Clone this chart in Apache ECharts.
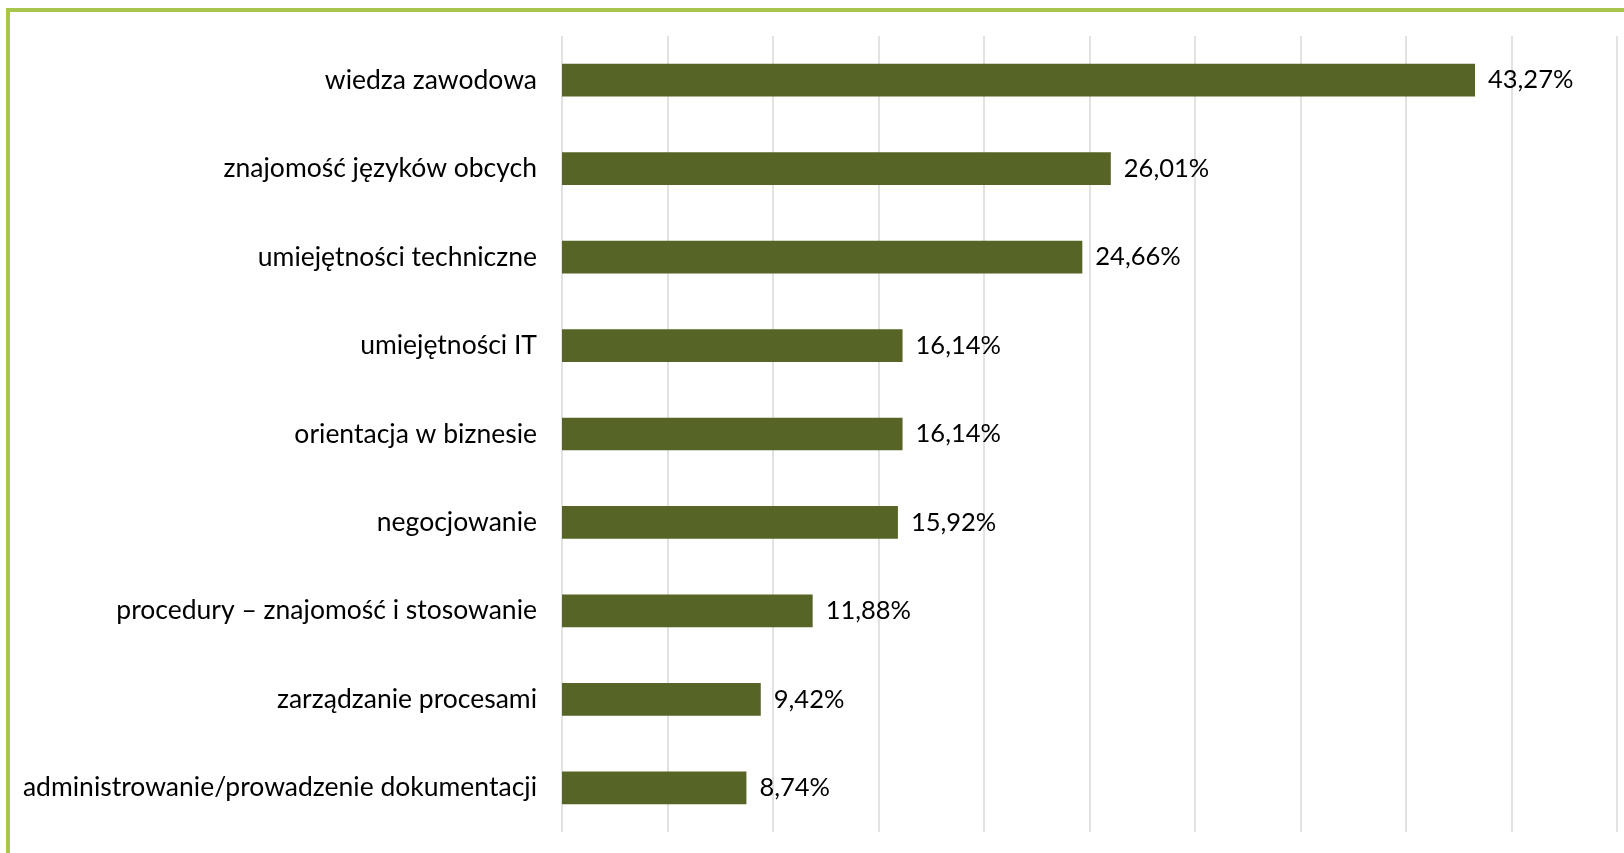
<!DOCTYPE html>
<html>
<head>
<meta charset="utf-8">
<script src="https://cdn.jsdelivr.net/npm/echarts@6/dist/echarts.min.js"></script>
<style>
  html, body { margin: 0; padding: 0; background: #ffffff; }
  #chart { width: 1624px; height: 853px; }
</style>
</head>
<body>
<div id="chart"></div>
<script>
// Skill categories (top to bottom) and share of mentions, in percent
const categories = [
  'wiedza zawodowa',
  'znajomość języków obcych',
  'umiejętności techniczne',
  'umiejętności IT',
  'orientacja w biznesie',
  'negocjowanie',
  'procedury – znajomość i stosowanie',
  'zarządzanie procesami',
  'administrowanie/prowadzenie dokumentacji'
];
const shares = [43.27, 26.01, 24.66, 16.14, 16.14, 15.92, 11.88, 9.42, 8.74];

// Value axis range and step
const axisMin = 0;
const axisMax = 50;
const axisStep = 5;

const FONT = 'Lato, "Open Sans", sans-serif';

const chart = echarts.init(document.getElementById('chart'), null, { renderer: 'canvas' });

chart.setOption({
  backgroundColor: '#ffffff',
  animation: false,
  graphic: [
    // green frame along the top and left edges
    {
      type: 'polyline',
      shape: { points: [[8, 900], [8, 10], [1700, 10]] },
      style: { stroke: '#A8C64E', lineWidth: 4, fill: null },
      z: 10
    }
  ],
  grid: { left: 562, right: 7, top: 36, bottom: 21, containLabel: false },
  xAxis: {
    type: 'value',
    min: axisMin,
    max: axisMax,
    interval: axisStep,
    axisLabel: { show: false },
    axisLine: { show: false },
    axisTick: { show: false },
    splitLine: { show: true, lineStyle: { color: '#D9D9D9', width: 1.5 } }
  },
  yAxis: {
    type: 'category',
    inverse: true,
    data: categories,
    axisLine: { show: false },
    axisTick: { show: false },
    axisLabel: {
      margin: 25,
      color: '#000000',
      fontFamily: FONT,
      fontSize: 26.5
    }
  },
  series: [{
    type: 'bar',
    data: shares,
    barWidth: '37%',
    itemStyle: { color: '#566425' },
    label: {
      show: true,
      position: 'right',
      distance: 13,
      color: '#000000',
      fontFamily: FONT,
      fontSize: 25.5,
      formatter: p => p.value.toFixed(2).replace('.', ',') + '%'
    }
  }]
});
</script>
</body>
</html>
